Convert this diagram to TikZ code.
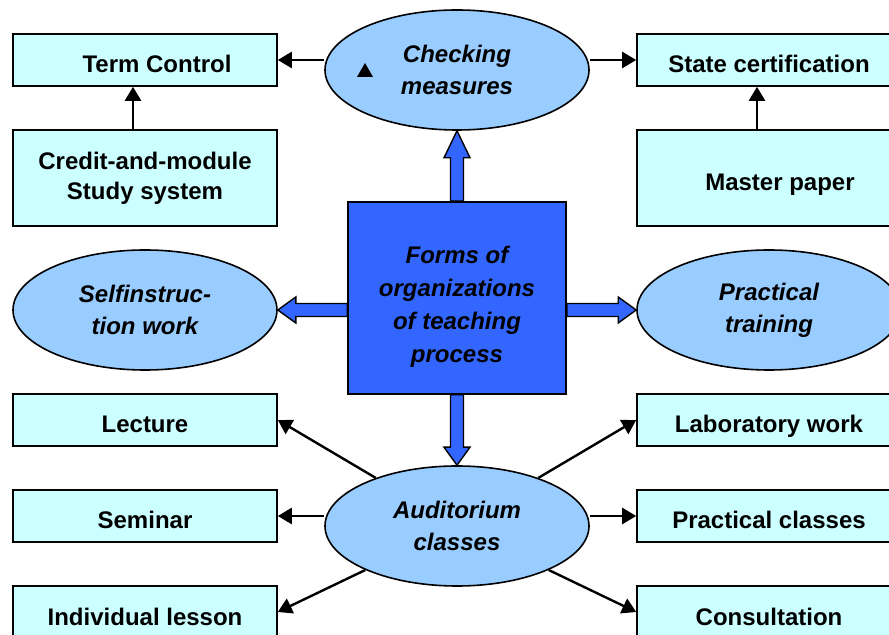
\documentclass[tikz,border=0pt]{standalone}
\usepackage{fontspec}
\setmainfont{Liberation Sans}
\usetikzlibrary{arrows.meta,calc,shapes.geometric}
\definecolor{boxcyan}{HTML}{CCFFFF}
\definecolor{ovalblue}{HTML}{99CCFF}
\definecolor{coreblue}{HTML}{3366FF}
\begin{document}
\begin{tikzpicture}[x=0.5pt, y=-0.5pt,
  box/.style={draw, line width=0.8pt, fill=boxcyan, minimum width=132pt, minimum height=26pt,
    inner sep=0pt, align=center, text height=13pt, text depth=0pt,
    font=\fontsize{12}{15}\selectfont\bfseries},
  bigbox/.style={box, minimum height=48pt, text height=, text depth=},
  oval/.style={ellipse, draw, line width=0.8pt, fill=ovalblue, minimum width=132pt, minimum height=60pt,
    inner sep=0pt, align=center, font=\fontsize{12}{16}\selectfont\bfseries\itshape},
  core/.style={draw, line width=0.8pt, fill=coreblue, minimum width=109pt, minimum height=96pt,
    inner sep=0pt, align=center, font=\fontsize{12}{16.5}\selectfont\bfseries\itshape},
  arr/.style={line width=1.2pt, -{Triangle[length=7pt,width=8pt]}},
  fat/.style={draw, line width=0.7pt, fill=coreblue, to path={
    let \p1=(\tikztostart), \p2=(\tikztotarget),
        \n1={atan2(\y2-\y1,\x2-\x1)}, \n2={veclen(\x2-\x1,\y2-\y1)} in
    ([shift={(\p1)},rotate=\n1]0pt,3.25pt)
    -- ([shift={(\p1)},rotate=\n1]\n2-#1,3.25pt)
    -- ([shift={(\p1)},rotate=\n1]\n2-#1,6.5pt)
    -- (\p2)
    -- ([shift={(\p1)},rotate=\n1]\n2-#1,-6.5pt)
    -- ([shift={(\p1)},rotate=\n1]\n2-#1,-3.25pt)
    -- ([shift={(\p1)},rotate=\n1]0pt,-3.25pt) -- cycle}},
  fat/.default=9pt]
\useasboundingbox (0,0) rectangle (889,635);
\clip (0,0) rectangle (889,635);
\node[box] (tc) at (145,60) {\hspace{12pt}Term Control};
\node[bigbox] (cms) at (145,178) {Credit-and-module\\Study system};
\node[oval] (self) at (145,310) {Selfinstruc-\\tion work};
\node[box] (lec) at (145,420) {Lecture};
\node[box] (sem) at (145,516) {Seminar};
\node[box] (ind) at (145,612) {Individual lesson};
\node[oval] (chk) at (457,70) {Checking\\measures};
\node[core] (sq) at (457,298) {\rule{0pt}{17pt}Forms of\\organizations\\of teaching\\process};
\node[oval] (aud) at (457,526) {Auditorium\\classes};
\node[box] (sc) at (769,60) {State certification};
\node[box, minimum height=48pt] (mp) at (769,178) {\hspace{11pt}Master paper};
\node[oval] (pt) at (769,310) {Practical\\training};
\node[box] (lab) at (769,420) {Laboratory work};
\node[box] (pc) at (769,516) {Practical classes};
\node[box] (con) at (769,612) {Consultation};
\fill (357,77) -- (373,77) -- (365,63) -- cycle;
\draw[fat=13.5pt] (sq.north) to (chk.south);
\draw[fat] (sq.south) to (aud.north);
\draw[fat] (sq.west |- self.east) to (self.east);
\draw[fat] (sq.east |- pt.west) to (pt.west);
\draw[arr] (chk.west |- tc.east) -- (tc.east);
\draw[arr] (chk.east |- sc.west) -- (sc.west);
\draw[arr] ([xshift=-6pt]cms.north) -- ([xshift=-6pt]tc.south);
\draw[arr] ([xshift=-6pt]mp.north) -- ([xshift=-6pt]sc.south);
\foreach \t in {lec,ind}{\draw[arr] (aud) -- (\t.east);}
\foreach \t in {lab,con}{\draw[arr] (aud) -- (\t.west);}
\draw[arr] (aud.west |- sem.east) -- (sem.east);
\draw[arr] (aud.east |- pc.west) -- (pc.west);
\end{tikzpicture}
\end{document}
